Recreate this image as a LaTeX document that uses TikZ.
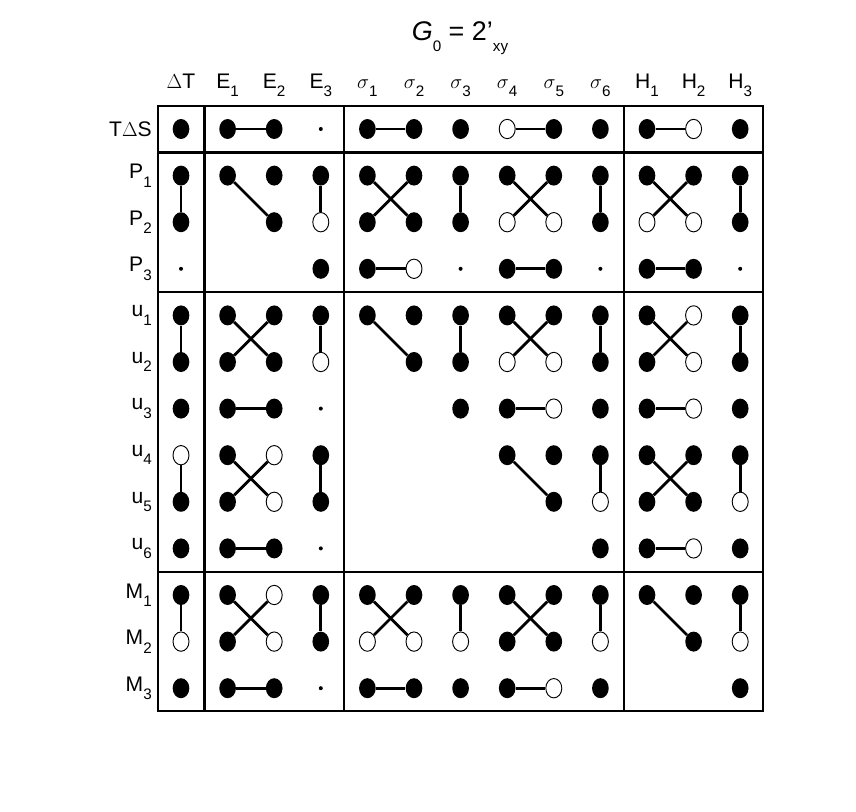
\documentclass[tikz,border=0pt]{standalone}
\usepackage{fontspec}
\setmainfont{Liberation Sans}
\usetikzlibrary{shapes.geometric}
\newcommand\lowsub[1]{\raisebox{-0.4em}{\fontsize{13}{13}\selectfont #1}}
\begin{document}
\begin{tikzpicture}[
	x=0.03cm, y=-0.03cm,
	dotf/.style = {ellipse, fill=black, minimum width=0.5cm, minimum height=0.6cm, inner sep=0pt},
	doto/.style = {ellipse, draw, line width=0.8pt, fill=white, minimum width=0.48cm, minimum height=0.58cm, inner sep=0pt},
	dots/.style = {circle, fill=black, minimum size=0.12cm, inner sep=0pt},
	dotn/.style = {inner sep=0pt},
	link/.style = {line width=2.4pt},
	frame/.style = {line width=2.4pt},
	lbl/.style = {font=\fontsize{18}{20}\selectfont},
	]
	\useasboundingbox (0,0) rectangle (856,812);
	% title
	\node[lbl, font=\fontsize{23}{25}\selectfont] (title) at (460,38) {\textit{G}\lowsub{0} = 2'\lowsub{xy}};
	% frame
	\draw[frame] (158,106) rectangle (763,711);
	\draw[frame] (204.5,106) -- (204.5,711);
	\draw[frame] (344,106) -- (344,711);
	\draw[frame] (624,106) -- (624,711);
	\draw[frame] (158,152.5) -- (763,152.5);
	\draw[frame] (158,292) -- (763,292);
	\draw[frame] (158,572) -- (763,572);
	% column and row labels
	\foreach \t [count=\c] in {$\Delta$T, E\lowsub{1}, E\lowsub{2}, E\lowsub{3},
		$\sigma$\lowsub{1}, $\sigma$\lowsub{2}, $\sigma$\lowsub{3}, $\sigma$\lowsub{4}, $\sigma$\lowsub{5}, $\sigma$\lowsub{6},
		H\lowsub{1}, H\lowsub{2}, H\lowsub{3}}
		\node[lbl, anchor=base] (col-\c) at ({181+(\c-1)*46.6},88) {\t};
	\foreach \t [count=\r] in {T$\Delta$S, P\lowsub{1}, P\lowsub{2}, P\lowsub{3},
		u\lowsub{1}, u\lowsub{2}, u\lowsub{3}, u\lowsub{4}, u\lowsub{5}, u\lowsub{6},
		M\lowsub{1}, M\lowsub{2}, M\lowsub{3}}
		\node[lbl, anchor=east, inner sep=0pt] (row-\r) at (152,{129+(\r-1)*46.6}) {\t};
	% dots
	\foreach \line [count=\r] in {
		{f,f,f,s,f,f,f,o,f,f,f,o,f},
		{f,f,f,f,f,f,f,f,f,f,f,f,f},
		{f,n,f,o,f,f,f,o,o,f,o,o,f},
		{s,n,n,f,f,o,s,f,f,s,f,f,s},
		{f,f,f,f,f,f,f,f,f,f,f,o,f},
		{f,f,f,o,n,f,f,o,o,f,f,o,f},
		{f,f,f,s,n,n,f,f,o,f,f,o,f},
		{o,f,o,f,n,n,n,f,f,f,f,f,f},
		{f,f,o,f,n,n,n,n,f,o,f,f,o},
		{f,f,f,s,n,n,n,n,n,f,f,o,f},
		{f,f,o,f,f,f,f,f,f,f,f,f,f},
		{o,f,o,f,o,o,o,f,f,o,n,f,o},
		{f,f,f,s,f,f,f,f,o,f,n,n,f}}
		\foreach \v [count=\c] in \line
			\node[dot\v] (d-\r-\c) at ({181+(\c-1)*46.6},{129+(\r-1)*46.6}) {};
	% horizontal links
	\foreach \a/\b in {1-2/1-3, 1-5/1-6, 1-8/1-9, 1-11/1-12, 4-5/4-6, 4-8/4-9, 4-11/4-12,
		7-2/7-3, 7-8/7-9, 7-11/7-12, 10-2/10-3, 10-11/10-12, 13-2/13-3, 13-5/13-6, 13-8/13-9}
		\draw[link] (d-\a) -- (d-\b);
	% vertical links
	\foreach \r/\c in {2/1, 2/4, 2/7, 2/10, 2/13, 5/1, 5/4, 5/7, 5/10, 5/13,
		8/1, 8/4, 8/10, 8/13, 11/1, 11/4, 11/7, 11/10, 11/13}
		\draw[link] (d-\r-\c) -- (d-\the\numexpr\r+1\relax-\c);
	% crossings
	\foreach \r/\c in {2/5, 2/8, 2/11, 5/2, 5/8, 5/11, 8/2, 8/11, 11/2, 11/5, 11/8} {
		\draw[link] (d-\r-\c) -- (d-\the\numexpr\r+1\relax-\the\numexpr\c+1\relax);
		\draw[link] (d-\r-\the\numexpr\c+1\relax) -- (d-\the\numexpr\r+1\relax-\c);
	}
	% single diagonals
	\foreach \r/\c in {2/2, 5/5, 8/8, 11/11}
		\draw[link] (d-\r-\c) -- (d-\the\numexpr\r+1\relax-\the\numexpr\c+1\relax);
\end{tikzpicture}
\end{document}
